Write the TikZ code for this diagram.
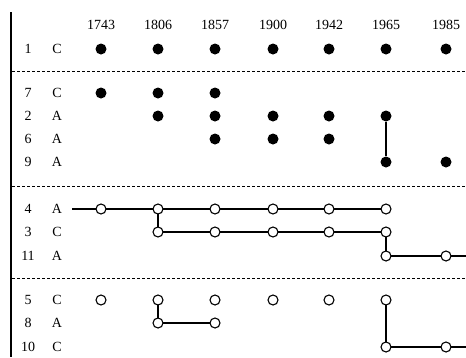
\documentclass[tikz,border=0pt]{standalone}
\usepackage{fontspec}
\setmainfont{Liberation Serif}
\begin{document}
\begin{tikzpicture}[x=1pt,y=-1pt,
  lab/.style={font=\fontsize{14}{16}\selectfont, inner sep=0pt},
  full/.style={circle, fill=black, minimum size=11pt, inner sep=0pt},
  open/.style={circle, draw=black, fill=white, line width=1.1pt, minimum size=10pt, inner sep=0pt},
  link/.style={line width=1.2pt},
  sep/.style={line width=1pt, dash pattern=on 3pt off 2pt}]
\useasboundingbox (0,0) rectangle (466,357);
% left rule
\draw[line width=1.8pt] (11,12) -- (11,357);
% year headings
\foreach \yr/\x in {1743/101,1806/158,1857/215,1900/273,1942/329,1965/386,1985/446}
  \node[lab] (y\yr) at (\x,25) {\yr};
% row labels
\foreach \n/\l/\y in {1/C/49,7/C/93,2/A/116,6/A/139,9/A/162,4/A/209,3/C/232,11/A/256,5/C/300,8/A/323,10/C/347}{
  \node[lab] (n\n) at (28,\y) {\n};
  \node[lab] (l\n) at (57,\y) {\l};
}
% separators
\coordinate (s1a) at (12,71);  \coordinate (s1b) at (466,71);
\coordinate (s2a) at (12,186); \coordinate (s2b) at (466,186);
\coordinate (s3a) at (12,278); \coordinate (s3b) at (466,278);
\draw[sep] (s1a) -- (s1b);
\draw[sep] (s2a) -- (s2b);
\draw[sep] (s3a) -- (s3b);
% filled markers
\foreach \x/\k in {101/a,158/b,215/c,273/d,329/e,386/f,446/g}
  \node[full] (f1\k) at (\x,49) {};
\foreach \x/\k in {101/a,158/b,215/c}
  \node[full] (f7\k) at (\x,93) {};
\foreach \x/\k in {158/b,215/c,273/d,329/e,386/f}
  \node[full] (f2\k) at (\x,116) {};
\foreach \x/\k in {215/c,273/d,329/e}
  \node[full] (f6\k) at (\x,139) {};
\foreach \x/\k in {386/f,446/g}
  \node[full] (f9\k) at (\x,162) {};
\draw[link] (f2f) -- (f9f);
% open markers: links first, markers on top
\coordinate (e4) at (72,209);
\coordinate (e11) at (466,256);
\coordinate (e10) at (466,347);
\foreach \x/\k in {101/a,158/b,215/c,273/d,329/e,386/f}
  \coordinate (o4\k) at (\x,209);
\foreach \x/\k in {158/b,215/c,273/d,329/e,386/f}
  \coordinate (o3\k) at (\x,232);
\foreach \x/\k in {386/f,446/g}
  \coordinate (o11\k) at (\x,256);
\foreach \x/\k in {101/a,158/b,215/c,273/d,329/e,386/f}
  \coordinate (o5\k) at (\x,300);
\foreach \x/\k in {158/b,215/c}
  \coordinate (o8\k) at (\x,323);
\foreach \x/\k in {386/f,446/g}
  \coordinate (o10\k) at (\x,347);
\draw[link] (e4) -- (o4f);
\draw[link] (o4b) -- (o3b) -- (o3f) -- (o11f) -- (e11);
\draw[link] (o5b) -- (o8b) -- (o8c);
\draw[link] (o5f) -- (o10f) -- (e10);
\foreach \c in {o4a,o4b,o4c,o4d,o4e,o4f,o3b,o3c,o3d,o3e,o3f,o11f,o11g,
                o5a,o5b,o5c,o5d,o5e,o5f,o8b,o8c,o10f,o10g}
  \node[open] at (\c) {};
\end{tikzpicture}
\end{document}
